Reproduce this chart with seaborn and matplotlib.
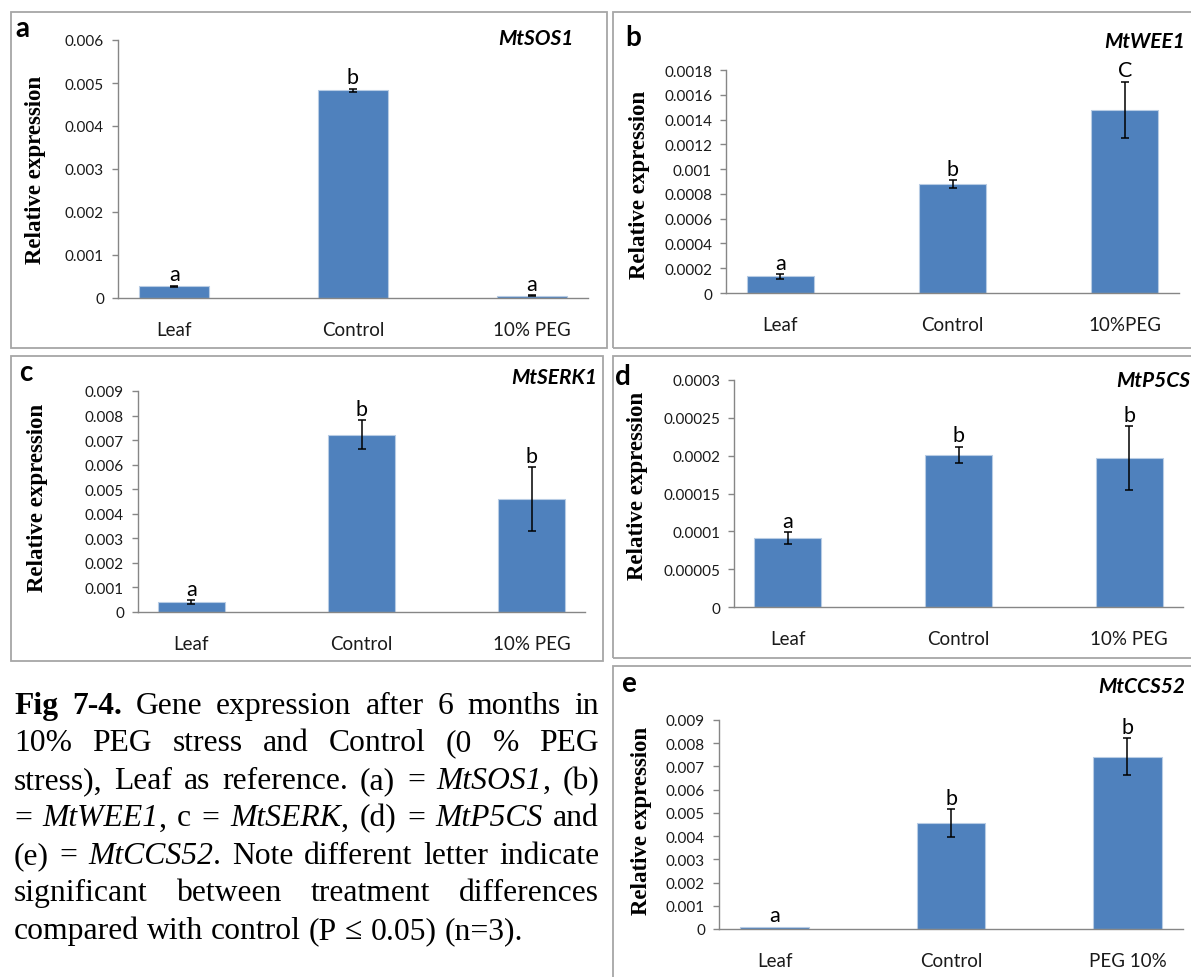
import re
import numpy as np
import pandas as pd
import seaborn as sns
import matplotlib.pyplot as plt
from matplotlib.patches import Rectangle
from matplotlib.ticker import FuncFormatter

W, H = 1191, 978
BAR = '#4F81BD'
BAR_EDGE = '#B8CCE4'
AXIS = '#868686'
BOX = '#A6A6A6'
SANS = ['Lato', 'DejaVu Sans']
SERIF = ['Liberation Serif', 'DejaVu Serif']

# (a) MtSOS1
sos1_groups = ['Leaf', 'Control', '10% PEG']
sos1_mean = [0.00027, 0.00483, 0.000055]
sos1_err = [0.00002, 0.00004, 0.000004]
sos1_sig = ['a', 'b', 'a']

# (b) MtWEE1
wee1_groups = ['Leaf', 'Control', '10%PEG']
wee1_mean = [0.000134, 0.000877, 0.00148]
wee1_err = [0.00002, 0.000033, 0.000225]
wee1_sig = ['a', 'b', 'C']

# (c) MtSERK1
serk1_groups = ['Leaf', 'Control', '10% PEG']
serk1_mean = [0.0004, 0.00722, 0.0046]
serk1_err = [0.00007, 0.0006, 0.0013]
serk1_sig = ['a', 'b', 'b']

# (d) MtP5CS
p5cs_groups = ['Leaf', 'Control', '10% PEG']
p5cs_mean = [0.0000912, 0.000201, 0.0001965]
p5cs_err = [0.0000073, 0.0000107, 0.0000425]
p5cs_sig = ['a', 'b', 'b']

# (e) MtCCS52
ccs52_groups = ['Leaf', 'Control', 'PEG 10%']
ccs52_mean = [0.0001, 0.00455, 0.00742]
ccs52_err = [0.0, 0.0006, 0.0008]
ccs52_sig = ['a', 'b', 'b']

caption_lines = [
    "#Fig# #7-4.# Gene expression after 6 months in",
    "10% PEG stress and Control (0 % PEG",
    "stress), Leaf as reference. (a) = _MtSOS1_, (b)",
    "= _MtWEE1_, c = _MtSERK_, (d) = _MtP5CS_ and",
    "(e) = _MtCCS52_. Note different letter indicate",
    "significant between treatment differences",
    "compared with control (P \u2264 0.05) (n=3).",
]

# panel layout in pixels: axes (left, right, top, bottom), frame box, letter, title, y-label
panels = [
    dict(tag='a', gene='MtSOS1', groups=sos1_groups, mean=sos1_mean, err=sos1_err, sig=sos1_sig,
         ymax=0.006, step=0.001, ax=(118, 588, 41, 299), box=(11, 13, 607, 349),
         letter=(22, 29), title=(574, 39), ylab=(36, 170)),
    dict(tag='b', gene='MtWEE1', groups=wee1_groups, mean=wee1_mean, err=wee1_err, sig=wee1_sig,
         ymax=0.0018, step=0.0002, ax=(726, 1179, 71, 294), box=(613, 13, 1210, 349),
         letter=(633, 38), title=(1185, 42), ylab=(640, 185)),
    dict(tag='c', gene='MtSERK1', groups=serk1_groups, mean=serk1_mean, err=serk1_err, sig=serk1_sig,
         ymax=0.009, step=0.001, ax=(138, 585, 392, 613), box=(11, 357, 603, 662),
         letter=(26, 373), title=(597, 378), ylab=(38, 498)),
    dict(tag='d', gene='MtP5CS', groups=p5cs_groups, mean=p5cs_mean, err=p5cs_err, sig=p5cs_sig,
         ymax=0.0003, step=0.00005, ax=(734, 1183, 381, 608), box=(613, 357, 1210, 659),
         letter=(623, 377), title=(1190, 381), ylab=(638, 486)),
    dict(tag='e', gene='MtCCS52', groups=ccs52_groups, mean=ccs52_mean, err=ccs52_err, sig=ccs52_sig,
         ymax=0.009, step=0.001, ax=(719, 1183, 721, 930), box=(613, 667, 1210, 1000),
         letter=(628, 684), title=(1185, 687), ylab=(641, 821)),
]


def tick_fmt(v, pos):
    return f"{v:.6f}".rstrip('0').rstrip('.')


def draw_panel(fig, p):
    l, r, t, b = p['ax']
    ax = fig.add_axes([l / W, 1 - b / H, (r - l) / W, (b - t) / H])
    df = pd.DataFrame({'group': p['groups'], 'value': p['mean']})
    sns.barplot(data=df, x='group', y='value', ax=ax, color=BAR, width=0.39,
                edgecolor=BAR_EDGE, linewidth=0.8, errorbar=None, saturation=1)
    xs = np.arange(len(p['groups']))
    mean = np.array(p['mean'])
    err = np.array(p['err'])
    has = err > 0
    ax.errorbar(xs[has], mean[has], yerr=err[has], fmt='none', ecolor='black',
                elinewidth=1.1, capsize=2.6, capthick=1.1)
    for x, m, e, s in zip(xs, mean, err, p['sig']):
        ax.annotate(s, (x, m + e), xytext=(0, 1.0), textcoords='offset points',
                    ha='center', va='bottom', fontsize=15.5, family=SANS)
    ax.set_ylim(0, p['ymax'])
    ax.set_yticks(np.arange(0, p['ymax'] + p['step'] / 2, p['step']))
    ax.yaxis.set_major_formatter(FuncFormatter(tick_fmt))
    ax.set_xlabel('')
    ax.set_ylabel('')
    for side in ['top', 'right']:
        ax.spines[side].set_visible(False)
    for side in ['left', 'bottom']:
        ax.spines[side].set_color(AXIS)
        ax.spines[side].set_linewidth(1.0)
    ax.tick_params(axis='y', length=4, width=1, color=AXIS, pad=6, labelsize=11)
    ax.tick_params(axis='x', length=0, pad=16.5, labelsize=13.5)
    for lab in ax.get_xticklabels() + ax.get_yticklabels():
        lab.set_family(SANS)
        lab.set_color('#1a1a1a')

    x0, y0, x1, y1 = p['box']
    fig.add_artist(Rectangle((x0 / W, 1 - y1 / H), (x1 - x0) / W, (y1 - y0) / H,
                             transform=fig.transFigure, fill=False, ec=BOX, lw=1.3))
    lx, ly = p['letter']
    fig.text(lx / W, 1 - ly / H, p['tag'], ha='center', va='center',
             fontsize=20, fontweight='bold', family=SANS)
    tx, ty = p['title']
    fig.text(tx / W, 1 - ty / H, p['gene'], ha='right', va='center',
             fontsize=15, fontweight='bold', style='italic', family=SANS)
    yx, yy = p['ylab']
    fig.text(yx / W, 1 - yy / H, 'Relative expression', rotation=90, ha='center',
             va='center', fontsize=16.5, fontweight='bold', family=SERIF)


def draw_caption(fig, lines, left, right, first_base, step, size):
    renderer = fig.canvas.get_renderer()
    space = size * 100 / 72 * 0.25
    for i, line in enumerate(lines):
        y = 1 - (first_base + i * step) / H
        words = []
        for w in line.split(' '):
            bold = italic = False
            segs = []
            for tok in re.split(r'([_#])', w):
                if tok == '_':
                    italic = not italic
                    continue
                if tok == '#':
                    bold = not bold
                    continue
                if not tok:
                    continue
                t = fig.text(0, y, tok, fontsize=size, family=SERIF, va='baseline',
                             fontweight='bold' if bold else 'normal',
                             style='italic' if italic else 'normal')
                segs.append((t, t.get_window_extent(renderer).width))
            words.append(segs)
        total = sum(wd for segs in words for _, wd in segs)
        if i < len(lines) - 1:
            gap = (right - left - total) / (len(words) - 1)
        else:
            gap = space
        x = left
        for segs in words:
            for t, wd in segs:
                t.set_x(x / W)
                x += wd
            x += gap


fig = plt.figure(figsize=(W / 100, H / 100), dpi=100)
fig.patch.set_facecolor('white')
for p in panels:
    draw_panel(fig, p)
draw_caption(fig, caption_lines, 14, 599, 714, 37.5, 22.8)
fig.savefig('out.png', dpi=100, facecolor='white')
